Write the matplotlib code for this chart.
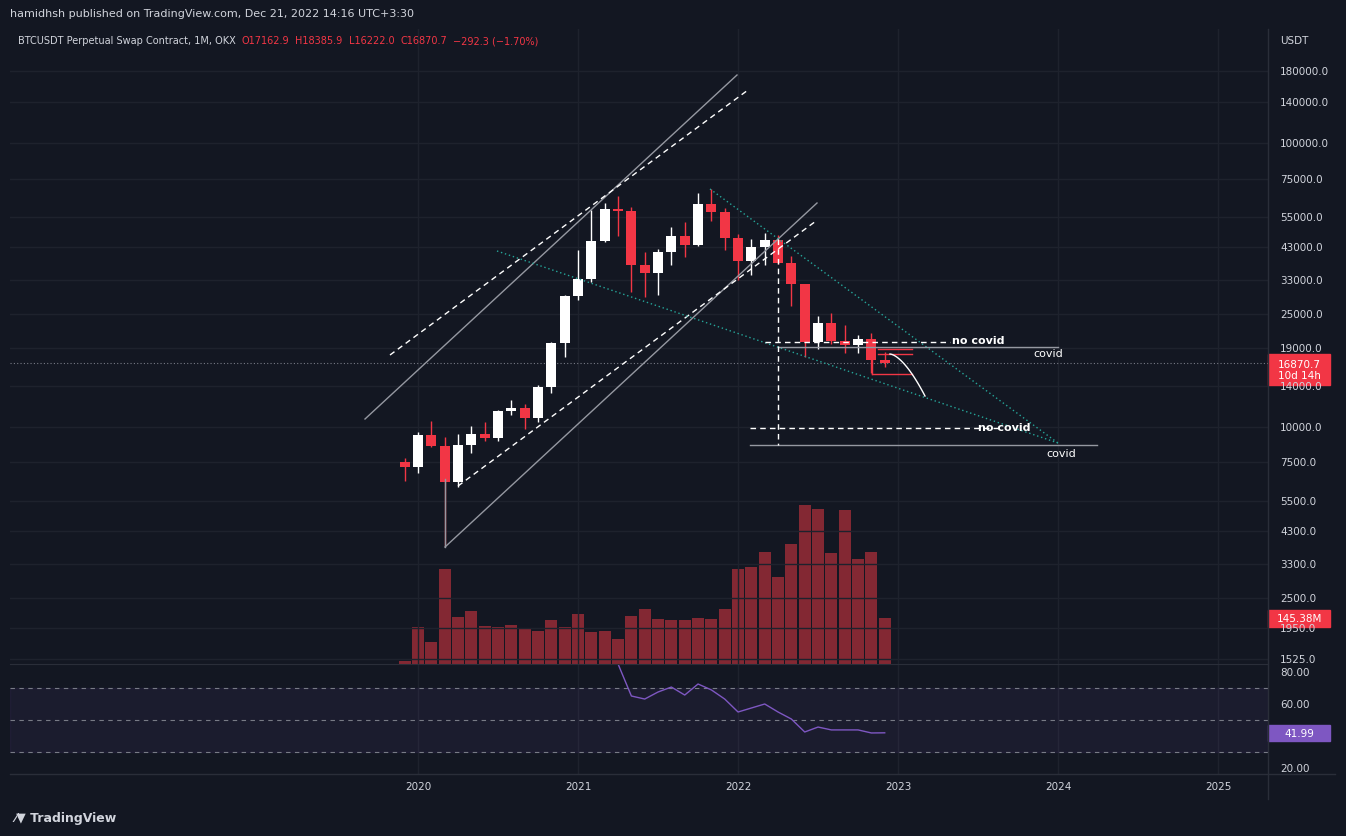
import matplotlib
matplotlib.use("Agg")
import matplotlib.pyplot as plt
import numpy as np

W, H = 1346, 837
# monthly OHLC, Dec 2019 .. Dec 2022
opens  = [7540,7200,9350,8550,6400,8630,9450,9140,11350,11650,10780,13800,19700,28900,33100,45100,58800,57700,37300,35000,41500,47100,43800,61300,57000,46200,38500,43200,45500,37700,31800,19900,23300,20050,19400,20500,17160]
highs  = [7750,9600,10500,9200,9460,10080,10400,11450,12480,12070,14100,19900,29300,41950,58350,61800,64900,59600,41300,42300,50500,52900,67000,69000,59000,47900,45800,48200,47400,40000,31900,24700,25200,22800,21100,21500,18385.9]
lows   = [6430,6900,8500,3800,6150,8100,8900,8950,10980,9860,10400,13200,17600,28100,32300,45000,47000,30000,28800,29300,37300,39600,43300,53200,42000,32900,34300,37200,37400,26700,17600,18800,19600,18200,18200,15500,16222.0]
closes = [7200,9350,8550,6400,8630,9450,9140,11350,11650,10780,13800,19700,28900,33100,45100,58800,57700,37300,35000,41500,47100,43800,61300,57000,46200,38500,43200,45500,37700,31800,19900,23300,20050,19400,20500,17160,16870.7]
volume_m = [9,117,70,300,149,167,120,117,123,114,104,139,117,158,101,104,79,152,174,142,139,139,145,142,174,300,307,354,275,379,502,490,351,487,332,354,145.38]
rsi_months = list(range(16,37))
rsi_vals = [85,65,63.1,67.5,70.6,65.6,72.5,68.8,63.1,55,57.5,60,55,50.6,42.5,45.6,43.8,43.8,43.8,41.9,41.99]
price_ticks = [1525,1950,2500,3300,4300,5500,7500,10000,14000,19000,25000,33000,43000,55000,75000,100000,140000,180000]
year_ticks = [2020,2021,2022,2023,2024,2025]

BG = "#131722"; TXT = "#d1d4dc"; RED = "#f23645"; WHITE = "#ffffff"; GRID = "#1e222d"
def px2yr(px): return 2020 + (px-418)/160
def py2p(py): return 10**(4 + (428-py)/283.8)
mx = [2019.917 + i/12 for i in range(len(opens))]

fig = plt.figure(figsize=(W/100, H/100), dpi=100, facecolor=BG)
def axrect(l, t, r, b): return [l/W, 1-b/H, (r-l)/W, (b-t)/H]
ax = fig.add_axes(axrect(10, 30, 1268, 665), facecolor=BG)
ax.set_yscale("log")
x0, x1 = px2yr(10), px2yr(1268)
ax.set_xlim(x0, x1); ax.set_ylim(py2p(665), py2p(30))
for s in ax.spines.values(): s.set_visible(False)
ax.set_xticks([]); ax.set_yticks([]); ax.minorticks_off()
for y in year_ticks: ax.axvline(y, color=GRID, lw=1, zorder=0)
for p in price_ticks: ax.axhline(p, color=GRID, lw=1, zorder=0)

vax = ax.twinx(); vax.set_ylim(0, 635*3.16); vax.set_axis_off()
vax.bar(mx, volume_m, width=0.075, color="#8a2a35", alpha=0.95, zorder=1)
ax.set_zorder(vax.get_zorder()+1); ax.patch.set_visible(False)
fig.patch.set_facecolor(BG)

for x, o, h, l, c in zip(mx, opens, highs, lows, closes):
    col = WHITE if c >= o else RED
    ax.vlines(x, l, h, color=col, lw=1, zorder=3)
    ax.bar(x, abs(c-o), bottom=min(o, c), width=0.0625, color=col, zorder=3)

def seg(p1, p2, **kw):
    ax.plot([px2yr(p1[0]), px2yr(p2[0])], [py2p(p1[1]), py2p(p2[1])], **kw)
gray = dict(color="#9598a1", lw=1, zorder=4)
seg((365,420),(737,76),**gray); seg((445,548),(817,204),**gray); seg((445,480),(445,548),**gray)
dw = dict(color=WHITE, lw=1, ls=(0,(4,3)), zorder=4)
seg((390,356),(748,91),**dw); seg((458,487),(816,222),**dw)
teal = dict(color="#26a69a", lw=1, ls=(0,(1,2)), zorder=4)
seg((497,252),(1058,444),**teal); seg((710,190),(1058,444),**teal)
seg((765,343),(950,343),**dw); seg((778,348),(1058,348),**gray)
seg((750,429),(1000,429),**dw); seg((750,446),(1097,446),**gray)
seg((778,240),(778,446),**dw)
rl = dict(color=RED, lw=1, zorder=5)
seg((878,350),(912,350),**rl); seg((878,355),(912,355),**rl)
seg((872,360),(872,375),**rl); seg((872,375),(912,375),**rl)
tt = np.linspace(0,1,20)
cx = 890+35*tt; cy = 355+42*tt**1.6
ax.plot([px2yr(a) for a in cx],[py2p(b) for b in cy], color=WHITE, lw=1, zorder=5)
ax.axhline(closes[-1], color="#787b86", lw=0.8, ls=(0,(1,2)), zorder=2)
def lab(px, py, s, **kw): ax.text(px2yr(px), py2p(py), s, color=WHITE, fontsize=8, va="center", zorder=6, **kw)
lab(952,341,"no covid", fontweight="bold"); lab(1033,354,"covid")
lab(978,428,"no covid", fontweight="bold"); lab(1046,454,"covid")

for p in price_ticks:
    py = 428 - (np.log10(p)-4)*283.8
    fig.text(1280/W, 1-py/H, f"{p:.1f}", color=TXT, fontsize=7.5, va="center")
fig.text(1280/W, 1-41/H, "USDT", color=TXT, fontsize=7.5, va="center")
def tag(t, b, s, col):
    fig.patches.append(plt.Rectangle((1268/W, 1-b/H), 62/W, (b-t)/H, transform=fig.transFigure, color=col))
    fig.text(1299/W, 1-(t+b)/2/H, s, color=WHITE, fontsize=7.5, ha="center", va="center")
tag(355,386,"16870.7\n10d 14h",RED); tag(611,628,"145.38M",RED); tag(726,742,"41.99","#7e57c2")

rax = fig.add_axes(axrect(10, 665, 1268, 775), facecolor=BG)
rax.set_xlim(x0, x1); rax.set_ylim(16.25, 85)
rax.axhspan(30, 70, color="#7e57c2", alpha=0.08)
for v in (70, 50, 30): rax.axhline(v, color="#787b86", lw=0.8, ls=(0,(4,4)))
for y in year_ticks: rax.axvline(y, color=GRID, lw=1, zorder=0)
rax.plot([mx[i] for i in rsi_months], rsi_vals, color="#7e57c2", lw=1)
rax.set_xticks([]); rax.set_yticks([])
for s in rax.spines.values(): s.set_visible(False)
rax.spines["top"].set_visible(True); rax.spines["top"].set_color("#2a2e39")
for v in (80, 60, 20):
    py = 673 + (80-v)*1.6
    fig.text(1280/W, 1-py/H, f"{v:.2f}", color=TXT, fontsize=7.5, va="center")
fig.add_artist(plt.Line2D([10/W,1335/W],[1-775/H,1-775/H], color="#2a2e39", lw=1))
fig.add_artist(plt.Line2D([1268/W,1268/W],[1-800/H,1-30/H], color="#2a2e39", lw=1))
for y in year_ticks:
    px = 418 + (y-2020)*160
    fig.text(px/W, 1-787/H, str(y), color=TXT, fontsize=7.5, ha="center", va="center")

fig.text(10/W, 1-14/H, "hamidhsh published on TradingView.com, Dec 21, 2022 14:16 UTC+3:30", color=TXT, fontsize=8, va="center")
r = fig.canvas.get_renderer()
xpos = 18
for s, col in [("BTCUSDT Perpetual Swap Contract, 1M, OKX", TXT), ("O17162.9", RED), ("H18385.9", RED),
               ("L16222.0", RED), ("C16870.7", RED), ("−292.3 (−1.70%)", RED)]:
    t = fig.text(xpos/W, 1-41/H, s, color=col, fontsize=7, va="center")
    xpos += t.get_window_extent(r).width + 6
fig.text(14/W, 1-819/H, "⁄▼ TradingView", color=TXT, fontsize=9, va="center", fontweight="bold")
fig.savefig("out.png", dpi=100, facecolor=BG)
